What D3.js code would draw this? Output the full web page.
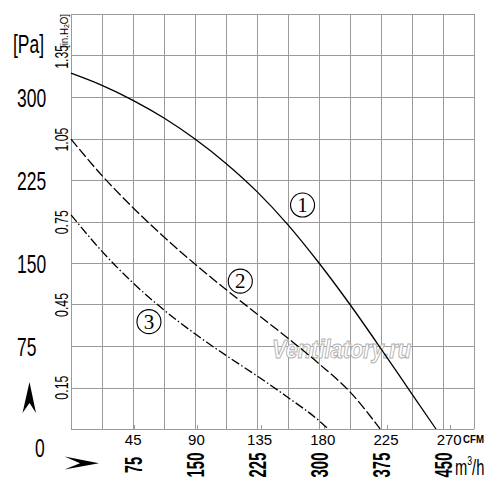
<!DOCTYPE html>
<html><head><meta charset="utf-8">
<script src="https://cdn.jsdelivr.net/npm/d3@7"></script>
<style>html,body{margin:0;padding:0;background:#fff}svg{display:block}</style>
</head><body>
<svg id="c" width="500" height="500"></svg>
<script>
// ---- data ----
const flow1 = [0, 37.5, 75, 112.5, 150, 187.5, 225, 262.5, 300, 337.5, 375, 412.5, 441.5];
const pa1   = [321.5, 310.5, 297, 281, 262, 240, 214.5, 184.5, 150, 112.5, 72.5, 31.5, 0];
const flow2 = [0, 37.5, 75, 112.5, 150, 187.5, 225, 262.5, 300, 337.5, 374];
const pa2   = [262, 229, 200, 173.5, 149, 126, 104, 82, 59, 33.5, 0];
const flow3 = [0, 37.5, 75, 112.5, 150, 187.5, 225, 262.5, 300, 311];
const pa3   = [193.5, 160.5, 132, 107.5, 86, 66.5, 48, 28.5, 7.5, 0];
const curveNames = ["1", "2", "3"];
const labelFlow = [280.1, 204.8, 94.3];
const labelPa   = [202.4, 133.6, 97];
const paTicks   = [75, 150, 225, 300];
const inTicks   = [0.15, 0.45, 0.75, 1.05, 1.35];
const m3hTicks  = [75, 150, 225, 300, 375, 450];
const cfmTicks  = [45, 90, 135, 180, 225, 270];
const flowMax = 487.5, paMax = 375, gridStep = 37.5;
const PA_PER_INH2O = 249.09, M3H_PER_CFM = 1.699;

// ---- scales ----
const L = 71, R = 474, T = 14, B = 429;
const x = d3.scaleLinear().domain([0, flowMax]).range([L, R]);
const y = d3.scaleLinear().domain([0, paMax]).range([B, T]);
const svg = d3.select("#c");
const FONT = "'Liberation Sans', Arial, sans-serif";

// grid
const gx = d3.range(0, flowMax + 0.01, gridStep);
const gy = d3.range(0, paMax + 0.01, gridStep);
svg.append("g").selectAll("line").data(gx).join("line")
  .attr("x1", d => Math.round(x(d)) + 0.5).attr("x2", d => Math.round(x(d)) + 0.5)
  .attr("y1", T).attr("y2", B).attr("stroke", "#9a9a9a").attr("stroke-width", 1);
svg.append("g").selectAll("line").data(gy).join("line")
  .attr("y1", d => Math.round(y(d)) + 0.5).attr("y2", d => Math.round(y(d)) + 0.5)
  .attr("x1", L).attr("x2", R).attr("stroke", "#9a9a9a").attr("stroke-width", 1);

// CFM ticks
svg.append("g").selectAll("line").data(cfmTicks).join("line")
  .attr("x1", d => Math.round(x(d * M3H_PER_CFM)) + 0.5).attr("x2", d => Math.round(x(d * M3H_PER_CFM)) + 0.5)
  .attr("y1", B - 4).attr("y2", B).attr("stroke", "#9a9a9a");

// watermark
svg.append("text").attr("x", 272).attr("y", 358)
  .attr("font-family", FONT).attr("font-size", 25).attr("font-weight", "bold").attr("font-style", "italic")
  .attr("fill", "#fff").attr("stroke", "#b0b0b0").attr("stroke-width", 1)
  .attr("textLength", 139).attr("lengthAdjust", "spacingAndGlyphs")
  .text("Ventilatory.ru");

// curves
const line = d3.line().x(d => x(d[0])).y(d => y(d[1])).curve(d3.curveMonotoneX);
const series = [
  {f: flow1, p: pa1, dash: null},
  {f: flow2, p: pa2, dash: "10,3"},
  {f: flow3, p: pa3, dash: "9,2.5,1.5,2.5"}
];
series.forEach(s => {
  svg.append("path").datum(s.f.map((v, i) => [v, s.p[i]]))
    .attr("d", line).attr("fill", "none").attr("stroke", "#000").attr("stroke-width", 1.3)
    .attr("stroke-dasharray", s.dash);
});

// circled labels
curveNames.forEach((n, i) => {
  const cx = x(labelFlow[i]), cy = y(labelPa[i]);
  svg.append("circle").attr("cx", cx).attr("cy", cy).attr("r", 12)
    .attr("fill", "#fff").attr("stroke", "#000").attr("stroke-width", 1.1);
  svg.append("text").attr("x", cx).attr("y", cy + 7).attr("text-anchor", "middle")
    .attr("font-family", "'Liberation Serif', 'DejaVu Serif', serif").attr("font-size", 21)
    .text(n);
});

// Pa labels (left, big narrow)
function narrow(tx, ty, str, size, sx, anchor, weight) {
  return svg.append("text").attr("transform", `translate(${tx},${ty}) scale(${sx},1)`)
    .attr("font-family", FONT).attr("font-size", size).attr("text-anchor", anchor || "start")
    .attr("font-weight", weight || "normal").text(str);
}
paTicks.forEach(v => narrow(17, y(v) + 10, String(v), 25, 0.7));
narrow(35, 457, "0", 25, 0.7);
narrow(13, 53, "[Pa]", 25, 0.7);

// in.H2O labels (rotated)
inTicks.forEach(v => {
  svg.append("text").attr("transform", `translate(68,${y(v * PA_PER_INH2O)}) rotate(-90) scale(0.65,1)`)
    .attr("font-family", FONT).attr("font-size", 19).attr("text-anchor", "middle")
    .text(v.toFixed(2));
});
svg.append("text").attr("transform", `translate(68,48) rotate(-90)`)
  .attr("font-family", FONT).attr("font-size", 11).attr("text-anchor", "start")
  .attr("textLength", 34).attr("lengthAdjust", "spacingAndGlyphs")
  .html("[in.H<tspan font-size='8' dy='1'>2</tspan><tspan dy='-1'>O]</tspan>");

// CFM labels
cfmTicks.forEach(v => {
  svg.append("text").attr("x", x(v * M3H_PER_CFM) - 1).attr("y", 445).attr("text-anchor", "middle")
    .attr("font-family", FONT).attr("font-size", 15).text(String(v));
});
svg.append("text").attr("x", 463).attr("y", 443).attr("font-family", FONT).attr("font-size", 11)
  .attr("font-weight", "bold").attr("textLength", 21).attr("lengthAdjust", "spacingAndGlyphs").text("CFM");

// m3/h labels (rotated bold)
m3hTicks.forEach(v => {
  svg.append("text").attr("transform", `translate(${x(v) + 9},465) rotate(-90) scale(0.62,1)`)
    .attr("font-family", FONT).attr("font-size", 24).attr("font-weight", "bold").attr("text-anchor", "middle")
    .text(String(v));
});
svg.append("text").attr("transform", "translate(455,475) scale(0.67,1)")
  .attr("font-family", FONT).attr("font-size", 22)
  .html("m<tspan font-size='13' dy='-10'>3</tspan><tspan dy='10'>/h</tspan>");

// arrows
svg.append("path").attr("d", "M29.5,382 L36,413 L29.5,403 L22.5,413 Z").attr("fill", "#000");
svg.append("path").attr("d", "M99,463.3 L64.5,456.5 L80,463.3 L64.5,469.5 Z").attr("fill", "#000");
</script>
</body></html>
